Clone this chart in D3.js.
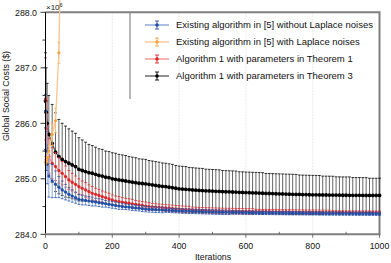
<!DOCTYPE html>
<meta charset="utf-8">
<style>
  body { margin: 0; background: #fff; }
  text { font-family: 'Liberation Sans', Arial, sans-serif; fill: #111; }
  .tick-label { font-size: 8.8px; }
  .legend-text { font-size: 9.5px; }
</style>
<script src="https://d3js.org/d3.v7.min.js"></script>
<svg width="391" height="263"></svg>
<script>
// iterations where a mean +/- error was recorded
var iterations = [0, 2, 5].concat(d3.range(10, 1001, 10));

var blackMean = [286.40, 286.20, 286.00,
  285.80, 285.64, 285.48, 285.40, 285.35, 285.31, 285.28, 285.25, 285.22, 285.17,
  285.15, 285.13, 285.11, 285.10, 285.08, 285.06, 285.05, 285.03, 285.02, 285.00,
  284.99, 284.98, 284.97, 284.96, 284.95, 284.94, 284.93, 284.92, 284.915, 284.91,
  284.90, 284.89, 284.88, 284.87, 284.865, 284.86, 284.85, 284.84, 284.83, 284.82,
  284.815, 284.81, 284.805, 284.80, 284.795, 284.79, 284.787, 284.784, 284.781, 284.778,
  284.775, 284.772, 284.77, 284.767, 284.765, 284.762, 284.76, 284.757, 284.755, 284.752,
  284.75, 284.747, 284.745, 284.742, 284.74, 284.737, 284.735, 284.733, 284.731, 284.729,
  284.727, 284.725, 284.723, 284.721, 284.719, 284.718, 284.716, 284.715, 284.713, 284.712,
  284.711, 284.71, 284.709, 284.708, 284.707, 284.706, 284.706, 284.705, 284.704, 284.704,
  284.703, 284.703, 284.702, 284.702, 284.701, 284.701, 284.70, 284.70, 284.70, 284.70];
var blackErr = [0.87, 0.80, 0.72,
  0.70, 0.70, 0.71, 0.67, 0.65, 0.64, 0.62, 0.61, 0.60, 0.57,
  0.55, 0.53, 0.51, 0.50, 0.49, 0.48, 0.48, 0.47, 0.47, 0.47,
  0.47, 0.46, 0.46, 0.46, 0.45, 0.45, 0.45, 0.44, 0.44, 0.44,
  0.43, 0.43, 0.43, 0.43, 0.42, 0.42, 0.42, 0.42, 0.41, 0.41,
  0.41, 0.41, 0.40, 0.40, 0.40, 0.40, 0.40, 0.39, 0.39, 0.39,
  0.39, 0.39, 0.38, 0.38, 0.38, 0.38, 0.38, 0.37, 0.37, 0.37,
  0.37, 0.37, 0.37, 0.37, 0.37, 0.36, 0.36, 0.36, 0.36, 0.36,
  0.36, 0.36, 0.36, 0.36, 0.36, 0.35, 0.35, 0.35, 0.35, 0.35,
  0.35, 0.35, 0.34, 0.34, 0.34, 0.34, 0.33, 0.33, 0.33, 0.33,
  0.33, 0.32, 0.32, 0.32, 0.32, 0.32, 0.31, 0.31, 0.31, 0.31];

var redMean = [286.44, 285.90, 285.55,
  285.40, 285.28, 285.22, 285.15, 285.10, 285.04, 284.98, 284.94, 284.90, 284.86,
  284.83, 284.80, 284.77, 284.74, 284.72, 284.70, 284.68, 284.66, 284.64, 284.62,
  284.60, 284.59, 284.58, 284.57, 284.56, 284.55, 284.54, 284.53, 284.52, 284.51,
  284.50, 284.495, 284.49, 284.485, 284.48, 284.475, 284.47, 284.465, 284.46, 284.455,
  284.45, 284.447, 284.444, 284.441, 284.438, 284.435, 284.432, 284.43, 284.428, 284.426,
  284.424, 284.422, 284.42, 284.419, 284.418, 284.417, 284.416, 284.415, 284.414, 284.413,
  284.412, 284.411, 284.41, 284.409, 284.408, 284.408, 284.407, 284.406, 284.406, 284.405,
  284.405, 284.404, 284.403, 284.402, 284.401, 284.40, 284.40, 284.399, 284.398, 284.398,
  284.397, 284.397, 284.396, 284.396, 284.395, 284.395, 284.394, 284.394, 284.394, 284.393,
  284.393, 284.393, 284.392, 284.392, 284.392, 284.391, 284.391, 284.391, 284.39, 284.39];
var redErr = [0.74, 0.50, 0.40,
  0.32, 0.28, 0.25, 0.23, 0.21, 0.19, 0.17, 0.16, 0.15, 0.14,
  0.13, 0.13, 0.12, 0.12, 0.11, 0.11, 0.10, 0.10, 0.10, 0.09,
  0.09, 0.09, 0.08, 0.08, 0.08, 0.08, 0.07, 0.07, 0.07, 0.07,
  0.07, 0.06, 0.06, 0.06, 0.06, 0.06, 0.06, 0.06, 0.06, 0.06,
  0.06, 0.06, 0.06, 0.05, 0.05, 0.05, 0.05, 0.05, 0.05, 0.05,
  0.05, 0.05, 0.05, 0.05, 0.05, 0.05, 0.05, 0.05, 0.05, 0.05,
  0.05, 0.05, 0.04, 0.04, 0.04, 0.04, 0.04, 0.04, 0.04, 0.04,
  0.04, 0.04, 0.04, 0.04, 0.04, 0.04, 0.04, 0.04, 0.04, 0.04,
  0.04, 0.04, 0.04, 0.04, 0.04, 0.03, 0.03, 0.03, 0.03, 0.03,
  0.03, 0.03, 0.03, 0.03, 0.03, 0.03, 0.03, 0.03, 0.03, 0.03];

var blueMean = [286.22, 285.50, 285.26,
  285.05, 284.96, 284.90, 284.85, 284.80, 284.76, 284.72, 284.69, 284.66, 284.63,
  284.62, 284.61, 284.60, 284.59, 284.58, 284.57, 284.56, 284.55, 284.54, 284.53,
  284.52, 284.51, 284.50, 284.495, 284.49, 284.48, 284.475, 284.47, 284.46, 284.455,
  284.45, 284.447, 284.444, 284.441, 284.438, 284.435, 284.432, 284.429, 284.426, 284.423,
  284.42, 284.418, 284.416, 284.414, 284.412, 284.41, 284.408, 284.406, 284.404, 284.402,
  284.40, 284.399, 284.398, 284.397, 284.396, 284.395, 284.394, 284.393, 284.392, 284.391,
  284.39, 284.389, 284.388, 284.387, 284.386, 284.385, 284.385, 284.384, 284.383, 284.383,
  284.382, 284.381, 284.381, 284.38, 284.38, 284.379, 284.379, 284.378, 284.378, 284.377,
  284.377, 284.376, 284.376, 284.375, 284.375, 284.375, 284.374, 284.374, 284.374, 284.373,
  284.373, 284.373, 284.372, 284.372, 284.372, 284.371, 284.371, 284.371, 284.37, 284.37];
var blueErr = [0.30, 0.35, 0.35,
  0.38, 0.30, 0.24, 0.19, 0.16, 0.14, 0.12, 0.11, 0.10, 0.09,
  0.09, 0.08, 0.08, 0.08, 0.07, 0.07, 0.07, 0.06, 0.06, 0.06,
  0.06, 0.06, 0.05, 0.05, 0.05, 0.05, 0.05, 0.05, 0.05, 0.05,
  0.05, 0.05, 0.05, 0.05, 0.05, 0.04, 0.04, 0.04, 0.04, 0.04,
  0.04, 0.04, 0.04, 0.04, 0.04, 0.04, 0.04, 0.04, 0.04, 0.04,
  0.04, 0.04, 0.04, 0.04, 0.04, 0.03, 0.03, 0.03, 0.03, 0.03,
  0.03, 0.03, 0.03, 0.03, 0.03, 0.03, 0.03, 0.03, 0.03, 0.03,
  0.03, 0.03, 0.03, 0.03, 0.03, 0.03, 0.03, 0.03, 0.03, 0.03,
  0.03, 0.03, 0.03, 0.03, 0.03, 0.03, 0.03, 0.03, 0.03, 0.03,
  0.03, 0.03, 0.03, 0.03, 0.03, 0.03, 0.03, 0.03, 0.03, 0.03];

// the noisy variant diverges and leaves the plot after a few dozen iterations
var orangeIter = [0, 2, 5, 10, 20, 30, 40, 50];
var orangeMean = [285.30, 285.33, 285.38, 285.50, 285.80, 286.05, 287.27, 290.5];
var orangeErr = [0.05, 0.06, 0.08, 0.12, 0.20, 0.22, 0.19, 0.30];

var legendLabels = [
  "Existing algorithm in [5] without Laplace noises",
  "Existing algorithm in [5] with Laplace noises",
  "Algorithm 1 with parameters in Theorem 1",
  "Algorithm 1 with parameters in Theorem 3"
];
var xTicks = [0, 200, 400, 600, 800, 1000];
var yTicks = [284, 285, 286, 287, 288];

function pack(xs, ms, es) {
  return xs.map(function(x, i) { return {x: x, m: ms[i], e: es[i]}; });
}

var series = [
  {name: legendLabels[3], dark: "#000000", light: "#555555", r: 1.9, data: pack(iterations, blackMean, blackErr)},
  {name: legendLabels[2], dark: "#d9262b", light: "#f08a88", r: 1.6, data: pack(iterations, redMean, redErr)},
  {name: legendLabels[0], dark: "#1f4ea3", light: "#7d9dd6", r: 1.6, data: pack(iterations, blueMean, blueErr)},
  {name: legendLabels[1], dark: "#f4a340", light: "#f8c58a", r: 1.6, data: pack(orangeIter, orangeMean, orangeErr)}
];

var svg = d3.select("svg");
var pLeft = 45.5, pRight = 379.5, pTop = 12.3, pBottom = 234.3;

var x = d3.scaleLinear().domain([0, 1000]).range([pLeft, pRight]);
var y = d3.scaleLinear().domain([284, 288]).range([pBottom, pTop]);

// faint vertical grid
svg.append("g").selectAll("line")
  .data([200, 400, 600, 800]).enter().append("line")
  .attr("x1", function(d) { return x(d); }).attr("x2", function(d) { return x(d); })
  .attr("y1", pTop).attr("y2", pBottom)
  .attr("stroke", "#e4e4e4").attr("stroke-width", 0.8).attr("stroke-dasharray", "2,1");

// frame top/right
svg.append("path")
  .attr("d", "M" + pLeft + "," + pTop + "H" + pRight + "V" + pBottom)
  .attr("fill", "none").attr("stroke", "#808080").attr("stroke-width", 2);

// series
series.forEach(function(s) {
  var g = svg.append("g");
  g.selectAll("line.bar").data(s.data).enter().append("line")
    .attr("class", "bar")
    .attr("x1", function(d) { return x(d.x); }).attr("x2", function(d) { return x(d.x); })
    .attr("y1", function(d) { return y(d.m - d.e); }).attr("y2", function(d) { return y(d.m + d.e); })
    .attr("stroke", s.light).attr("stroke-width", 0.9);
  [-1, 1].forEach(function(sign) {
    var cls = sign > 0 ? "cap-hi" : "cap-lo";
    g.selectAll("line." + cls).data(s.data).enter().append("line")
      .attr("class", cls)
      .attr("x1", function(d) { return x(d.x) - 1.4; }).attr("x2", function(d) { return x(d.x) + 1.4; })
      .attr("y1", function(d) { return y(d.m + sign * d.e); })
      .attr("y2", function(d) { return y(d.m + sign * d.e); })
      .attr("stroke", s.dark).attr("stroke-width", 0.8);
  });
  g.append("path").datum(s.data)
    .attr("d", d3.line().x(function(d) { return x(d.x); }).y(function(d) { return y(d.m); }))
    .attr("fill", "none").attr("stroke", s.light).attr("stroke-width", 1.3);
  g.selectAll("circle").data(s.data).enter().append("circle")
    .attr("cx", function(d) { return x(d.x); }).attr("cy", function(d) { return y(d.m); })
    .attr("r", s.r).attr("fill", s.dark);
});

// axes
var yAxis = svg.append("g").attr("transform", "translate(" + pLeft + ",0)");
yAxis.append("line").attr("y1", pTop).attr("y2", pBottom).attr("stroke", "#000").attr("stroke-width", 1);
yAxis.selectAll("line.major").data(yTicks).enter().append("line").attr("class", "major")
  .attr("x1", -5).attr("x2", 0).attr("y1", function(d) { return y(d); }).attr("y2", function(d) { return y(d); })
  .attr("stroke", "#000").attr("stroke-width", 0.8);
yAxis.selectAll("line.minor").data([284.5, 285.5, 286.5, 287.5]).enter().append("line").attr("class", "minor")
  .attr("x1", -3).attr("x2", 0).attr("y1", function(d) { return y(d); }).attr("y2", function(d) { return y(d); })
  .attr("stroke", "#000").attr("stroke-width", 0.8);
yAxis.selectAll("text").data(yTicks).enter().append("text")
  .attr("class", "tick-label").attr("x", -8.5).attr("y", function(d) { return y(d) + 3.2; })
  .attr("text-anchor", "end").text(function(d) { return d3.format(".1f")(d); });

var xAxis = svg.append("g");
xAxis.append("line").attr("x1", pLeft - 0.5).attr("x2", pRight + 1).attr("y1", pBottom).attr("y2", pBottom)
  .attr("stroke", "#808080").attr("stroke-width", 2);
xAxis.selectAll("line.major").data(xTicks).enter().append("line").attr("class", "major")
  .attr("x1", function(d) { return x(d); }).attr("x2", function(d) { return x(d); })
  .attr("y1", pBottom).attr("y2", pBottom + 3.5).attr("stroke", "#555").attr("stroke-width", 0.8);
xAxis.selectAll("line.minor").data([100, 300, 500, 700, 900]).enter().append("line").attr("class", "minor")
  .attr("x1", function(d) { return x(d); }).attr("x2", function(d) { return x(d); })
  .attr("y1", pBottom - 2.5).attr("y2", pBottom).attr("stroke", "#555").attr("stroke-width", 0.8);
xAxis.selectAll("text").data(xTicks).enter().append("text")
  .attr("class", "tick-label").attr("x", function(d) { return x(d); }).attr("y", 249)
  .attr("text-anchor", "middle").text(function(d) { return d; });

svg.append("text").attr("class", "tick-label")
  .attr("x", 213).attr("y", 260).attr("text-anchor", "middle").text("Iterations");
svg.append("text").attr("class", "tick-label")
  .attr("transform", "translate(9,96) rotate(-90)").attr("text-anchor", "middle")
  .text("Global Social Costs ($)");

var mult = svg.append("text").attr("x", 46).attr("y", 10).style("font-size", "8px");
mult.append("tspan").text("\u00d710");
mult.append("tspan").attr("dy", -3.5).style("font-size", "5.5px").text("6");

// legend
var leg = svg.append("g");
leg.append("line").attr("x1", 130).attr("x2", 130).attr("y1", pTop).attr("y2", 99)
  .attr("stroke", "#888").attr("stroke-width", 1.2);
var legOrder = [series[2], series[3], series[1], series[0]];
legOrder.forEach(function(s, i) {
  var ly = 25 + i * 17;
  var item = leg.append("g").attr("transform", "translate(157," + ly + ")");
  item.append("line").attr("x1", -12).attr("x2", 12).attr("stroke", s.light).attr("stroke-width", 1.3);
  item.append("line").attr("y1", -4).attr("y2", 4).attr("stroke", s.dark).attr("stroke-width", 0.9);
  item.append("line").attr("x1", -2).attr("x2", 2).attr("y1", -4).attr("y2", -4).attr("stroke", s.dark).attr("stroke-width", 0.9);
  item.append("line").attr("x1", -2).attr("x2", 2).attr("y1", 4).attr("y2", 4).attr("stroke", s.dark).attr("stroke-width", 0.9);
  item.append("circle").attr("r", 1.8).attr("fill", s.dark);
  leg.append("text").attr("class", "legend-text").attr("x", 176).attr("y", ly + 3.3).text(s.name);
});
</script>
